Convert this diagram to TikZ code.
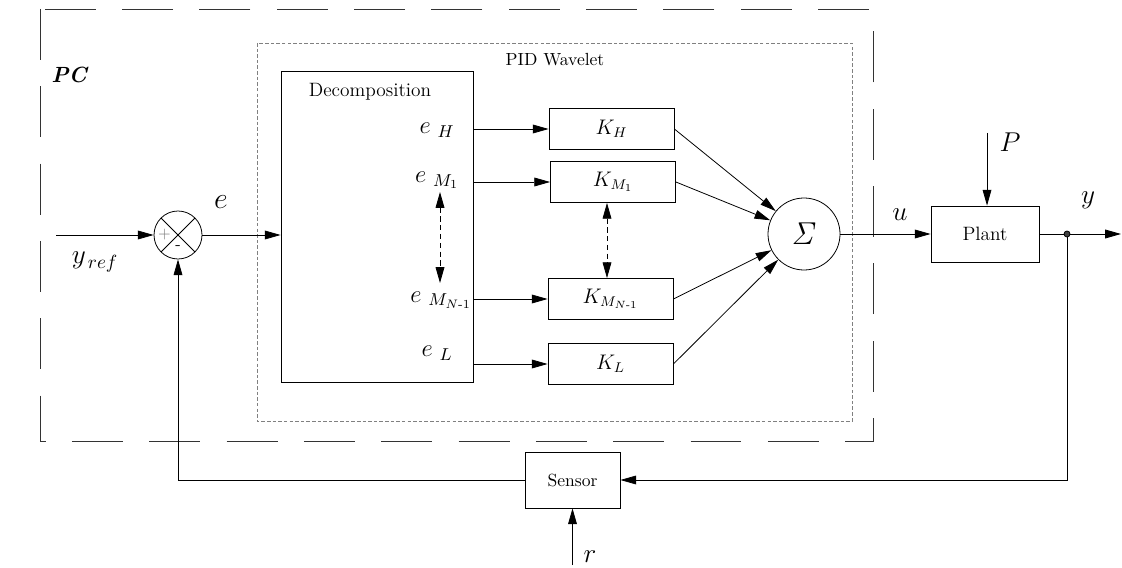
\documentclass[tikz,border=0pt]{standalone}
\usepackage{fix-cm}
\usepackage{amsmath,amssymb}
\usepackage{tikz}
\usetikzlibrary{arrows.meta,positioning,calc}

\begin{document}
\begin{tikzpicture}[line width=0.45pt,
    >={Triangle[length=9pt,width=5pt]},
    block/.style={draw, minimum width=2.5cm, minimum height=0.82cm, inner sep=0pt},
    gain/.style={block, font=\fontsize{12}{14}\selectfont},
    siglab/.style={font=\fontsize{15.5}{18}\selectfont},
    elab/.style={font=\fontsize{14}{16}\selectfont},
    sumj/.style={circle, draw, minimum size=0.96cm, inner sep=0pt,
        path picture={\draw (path picture bounding box.north west) -- (path picture bounding box.south east)
            (path picture bounding box.north east) -- (path picture bounding box.south west);}},
    dotarrow/.style={<->, dash pattern=on 3pt off 2pt}]
    \useasboundingbox (0,0) rectangle (22.44,11.34);

    % PC frame and PID frame
    \draw[black!80, dash pattern=on 29pt off 15pt] (0.8,11.16) rectangle (17.46,2.52);
    \draw[gray, dash pattern=on 2pt off 1.2pt] (5.14,10.48) rectangle (17.04,2.92);
    \node[font=\fontsize{12.5}{14}\selectfont] (pc) at (1.4,9.84) {\textbf{\textit{PC}}};
    \node (pidlab) at (11.1,10.14) {PID Wavelet};

    % Summing junction
    \node[sumj] (sj) at (3.56,6.64) {};
    \node[gray, font=\fontsize{9}{10}\selectfont] (plus) at ($(sj)+(-0.27,0)$) {$+$};
    \node[font=\fontsize{9}{10}\selectfont] (minus) at ($(sj)+(0,-0.26)$) {-};
    \coordinate (yin) at (1.12,6.64);
    \draw[->] (yin) -- (sj);
    \node[siglab] (yref) at (1.9,6.1) {$y_{\,ref}$};

    % Decomposition
    \node[block, minimum width=3.84cm, minimum height=6.22cm] (dec) at (7.54,6.81) {};
    \node[font=\fontsize{11}{13}\selectfont] (dectxt) at (7.4,9.5) {Decomposition};
    \draw[->] (sj) -- (sj -| dec.west);
    \node[font=\fontsize{17}{20}\selectfont] (elab) at (4.42,7.3) {$e$};

    \node[elab] (eh) at (8.74,8.74) {$e\;{}_{H}$};
    \node[elab] (em1) at (8.74,7.74) {$e\;{}_{M_1}$};
    \node[elab] (emn) at (8.82,5.34) {$e\;{}_{M_{N\text{-}1}}$};
    \node[elab] (el) at (8.74,4.28) {$e\;{}_{L}$};
    \coordinate (da) at (8.8,7.5);
    \coordinate (db) at (8.8,5.68);
    \draw[dotarrow] (da) -- (db);

    % Gains
    \node[gain] (kh) at (12.23,8.76) {$K_H$};
    \node[gain] (km1) at (12.26,7.7) {$K_{M_1}$};
    \node[gain] (kmn) at (12.21,5.36) {$K_{M_{N\text{-}1}}$};
    \node[gain] (kl) at (12.21,4.06) {$K_L$};
    \coordinate (ka) at ($(km1.south)+(-0.12,0)$);
    \coordinate (kb) at (ka |- kmn.north);
    \draw[dotarrow] (ka) -- (kb);

    % Sum
    \node[circle, draw, minimum size=1.44cm, inner sep=0pt, font=\fontsize{18}{20}\selectfont] (sigma) at (16.08,6.66) {$\mathit{\Sigma}$};
    \foreach \k in {kh,km1,kmn,kl} {
        \draw[->] (dec.east |- \k.west) -- (\k.west);
        \draw[->] (\k.east) -- (sigma);
    }

    % Plant
    \node[block, minimum width=2.16cm, minimum height=1.12cm, font=\fontsize{11}{13}\selectfont] (plant) at (19.7,6.66) {Plant};
    \draw[->] (sigma) -- (plant);
    \node[siglab] (ulab) at (18.0,7.04) {$u$};
    \coordinate (pin) at (19.74,8.68);
    \draw[->] (pin) -- (pin |- plant.north);
    \node[siglab] (plab) at (20.2,8.5) {$P$};

    \node[circle, fill=black!75, draw, inner sep=0pt, minimum size=0.12cm] (dot) at (21.34,6.66) {};
    \coordinate (yout) at (22.42,6.66);
    \draw (plant) -- (dot);
    \draw[->] (dot) -- (yout);
    \node[siglab] (ylab) at (21.76,7.34) {$y$};

    % Feedback
    \node[block, minimum width=1.9cm, minimum height=1.12cm] (sensor) at (11.45,1.74) {Sensor};
    \draw[->] (dot) |- (sensor);
    \draw[->] (sensor) -| (sj);
    \coordinate (rin) at (11.45,0.04);
    \draw[->] (rin) -- (sensor);
    \node[siglab] (rlab) at (11.8,0.2) {$r$};
\end{tikzpicture}
\end{document}
